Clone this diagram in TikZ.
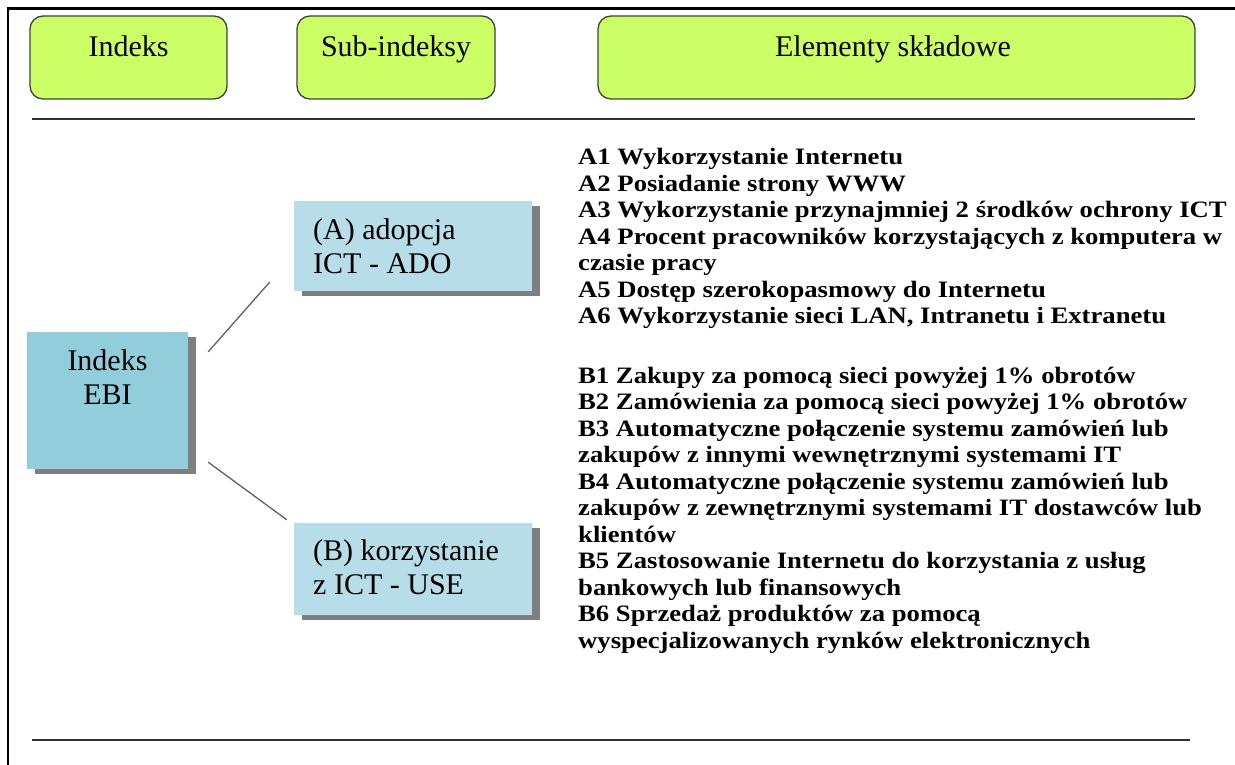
\documentclass[tikz,border=0pt]{standalone}
\usepackage{fontspec}
\setmainfont{Liberation Serif}
\newfontfamily\listfont{Liberation Serif}[FakeStretch=1.135]
\usetikzlibrary{shadows,calc}
\definecolor{limefill}{HTML}{CCFF66}
\definecolor{boxedge}{HTML}{404040}
\definecolor{ebifill}{HTML}{92CDDC}
\definecolor{subfill}{HTML}{B7DEE8}
\definecolor{shadowgray}{HTML}{7F7F7F}
\definecolor{rulegray}{HTML}{303030}
\definecolor{linkgray}{HTML}{606060}
\begin{document}
\begin{tikzpicture}[x=1pt,y=-1pt,
  headbox/.style={draw=boxedge, line width=1.3pt, fill=limefill, rounded corners=13pt, inner sep=0pt},
  bluebox/.style={inner sep=0pt, general shadow={fill=shadowgray, shadow xshift=8pt, shadow yshift=-5pt}},
  labeltext/.style={font=\fontsize{30}{35}\selectfont, inner sep=0pt},
  listtext/.style={font=\listfont\bfseries\fontsize{23.5}{26.5}\selectfont, inner sep=0pt, anchor=base west},
  link/.style={draw=linkgray, line width=1.3pt},
  rule/.style={draw=rulegray, line width=1.8pt}
]
\useasboundingbox (0,0) rectangle (1235,765);

% page frame
\draw[line width=2pt] (8,765) -- (8,9);
\draw[line width=3pt] (7,9) -- (1235,9);

% column headings
\node[headbox, minimum width=197pt, minimum height=83pt] (hIndeks) at (128.5,57.5) {};
\node[headbox, minimum width=198pt, minimum height=83pt] (hSub) at (396,57.5) {};
\node[headbox, minimum width=597pt, minimum height=83pt] (hElem) at (896.5,57.5) {};
\node[labeltext, anchor=base] (tIndeks) at (128.5,57) {Indeks};
\node[labeltext, anchor=base] (tSub) at (396,57) {Sub-indeksy};
\node[labeltext, anchor=base] (tElem) at (893,57) {Elementy składowe};

% rules
\draw[rule] (32,119) -- (1195,119);
\draw[rule] (32,740) -- (1190,740);

% index and sub-indices
\node[bluebox, fill=ebifill, minimum width=161pt, minimum height=137pt] (ebi) at (107.5,400.5) {};
\node[labeltext, anchor=base] (ebi1) at (107.5,370) {Indeks};
\node[labeltext, anchor=base] (ebi2) at (107.5,404) {EBI};

\node[bluebox, fill=subfill, minimum width=238pt, minimum height=90pt] (ado) at (413,246) {};
\node[labeltext, anchor=base west] (ado1) at (313,240) {(A) adopcja};
\node[labeltext, anchor=base west] (ado2) at (313,273) {ICT - ADO};

\node[bluebox, fill=subfill, minimum width=238pt, minimum height=92pt] (use) at (413,569) {};
\node[labeltext, anchor=base west] (use1) at (313,560) {(B) korzystanie};
\node[labeltext, anchor=base west] (use2) at (313,594) {z ICT - USE};

% connectors
\draw[link] ($(ebi.north east)+(20,20)$) -- ($(ado.west)+(-24,36)$);
\draw[link] ($(ebi.south east)+(20,-7)$) -- ($(use.north west)+(-7,-3)$);

% component lists
\node[listtext] (listA) at (578,165) {\begin{tabular}[t]{@{}l@{}}
A1 Wykorzystanie Internetu\\
A2 Posiadanie strony WWW\\
A3 Wykorzystanie przynajmniej 2 środków ochrony ICT\\
A4 Procent pracowników korzystających z komputera w\\
czasie pracy\\
A5 Dostęp szerokopasmowy do Internetu\\
A6 Wykorzystanie sieci LAN, Intranetu i Extranetu
\end{tabular}};
\node[listtext] (listB) at (578,383) {\begin{tabular}[t]{@{}l@{}}
B1 Zakupy za pomocą sieci powyżej 1\% obrotów\\
B2 Zamówienia za pomocą sieci powyżej 1\% obrotów\\
B3 Automatyczne połączenie systemu zamówień lub\\
zakupów z innymi wewnętrznymi systemami IT\\
B4 Automatyczne połączenie systemu zamówień lub\\
zakupów z zewnętrznymi systemami IT dostawców lub\\
klientów\\
B5 Zastosowanie Internetu do korzystania z usług\\
bankowych lub finansowych\\
B6 Sprzedaż produktów za pomocą\\
wyspecjalizowanych rynków elektronicznych
\end{tabular}};
\end{tikzpicture}
\end{document}
